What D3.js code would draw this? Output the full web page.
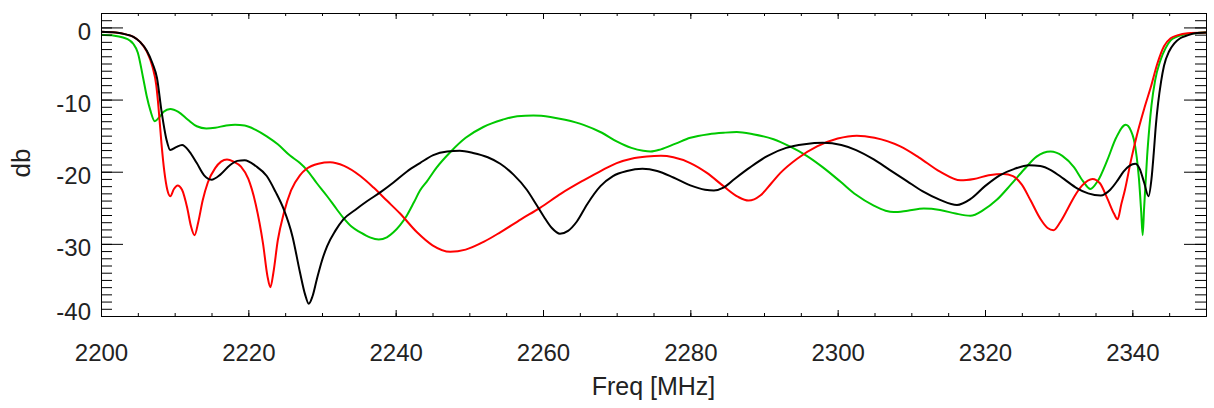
<!DOCTYPE html>
<html>
<head>
<meta charset="utf-8">
<script src="https://cdn.jsdelivr.net/npm/d3@7"></script>
<style>
html,body{margin:0;padding:0;background:#fff;}
svg{display:block;}
text{font-family:"Liberation Sans",Arial,Helvetica,sans-serif;fill:#222;}
</style>
</head>
<body>
<svg id="chart" width="1214" height="408"></svg>
<script>
// ---- data (frequency MHz, dB) ----
const blackFreq = [2200,2202,2203.5,2204.4,2205.3,2206.2,2207,2207.6,2208.2,2208.9,2209.4,2210.2,2211,2212,2213,2214,2215,2216.2,2217.5,2218.5,2219.5,2221,2222.5,2223.7,2224.8,2226,2227,2227.7,2228.2,2228.7,2229.3,2230,2230.7,2231.8,2232.9,2234.5,2236.1,2238,2239.7,2241.5,2243.3,2245.1,2247,2248.7,2250.5,2252.5,2254.2,2256,2257.8,2259,2260.1,2261.2,2262.3,2263.4,2264.6,2266,2267.8,2269.5,2271.4,2273.5,2275.5,2277.7,2280,2282,2283.2,2284.5,2286,2288.1,2290.5,2293,2295.5,2298,2300.5,2302.5,2304.9,2307,2309.4,2311.5,2313.9,2316.2,2318,2320,2322,2324,2326,2327.5,2329,2330.7,2332.5,2334,2335.7,2337,2338,2338.8,2339.6,2340.4,2341,2341.6,2342.2,2342.6,2342.9,2343.2,2343.5,2343.9,2344.3,2345,2345.7,2346.5,2347.5,2348.5,2350];
const blackDb = [-0.6,-0.7,-1.0,-1.3,-2.0,-3.2,-5.0,-7.0,-11.5,-15.6,-17.0,-16.6,-16.3,-17.2,-18.8,-20.5,-21.1,-20.4,-19.1,-18.5,-18.4,-19.2,-20.6,-22.8,-25.2,-29.0,-33.9,-37.0,-38.3,-37.3,-34.9,-32.3,-30.3,-28.2,-26.6,-25.3,-24.1,-22.8,-21.5,-20.0,-18.8,-17.7,-17.2,-17.1,-17.4,-18.0,-18.9,-20.4,-22.5,-24.4,-26.2,-27.8,-28.6,-28.2,-26.9,-24.5,-22.0,-20.6,-19.9,-19.6,-19.9,-20.8,-21.9,-22.5,-22.6,-22.2,-21.0,-19.4,-17.8,-16.7,-16.2,-16.0,-16.3,-17.0,-18.3,-19.7,-21.3,-22.7,-23.9,-24.6,-23.8,-22.0,-20.5,-19.6,-19.1,-19.2,-19.8,-21.0,-22.3,-23.0,-23.3,-22.5,-21.2,-20.0,-19.2,-18.9,-19.6,-21.5,-23.4,-21.0,-17.5,-13.5,-10.5,-7.5,-5.3,-3.3,-2.2,-1.5,-1.1,-0.8,-0.7];

const redFreq = [2200,2202,2203.5,2204.4,2205.3,2206.2,2207,2207.5,2207.8,2208.2,2208.6,2209,2209.4,2209.9,2210.4,2211,2211.7,2212.2,2212.7,2213.2,2213.8,2214.5,2215.5,2216.3,2217.1,2218,2219,2220,2221,2222,2222.6,2223,2223.4,2224,2224.8,2225.8,2227,2227.9,2229.5,2231.1,2233,2235.2,2237,2238.8,2240.6,2242.9,2245,2247.4,2249.5,2252,2254.2,2257,2259.6,2262.5,2265.5,2268,2270,2272,2274.1,2276,2277.7,2280,2282.3,2284.5,2286.5,2287.9,2289.5,2291,2292.2,2294.5,2297.2,2300,2302.6,2305,2308.5,2311,2313.9,2316.7,2318.5,2320.5,2322.5,2323.8,2325,2326.2,2327.5,2328.5,2329.3,2330.2,2331.2,2332.1,2333.2,2334.6,2335.6,2336.6,2337.5,2338,2338.5,2339,2339.8,2340.6,2341.6,2342.5,2343.4,2344.3,2345.2,2346.1,2347.5,2350];
const redDb = [-0.6,-0.7,-1.0,-1.3,-2.0,-3.3,-5.5,-8.0,-11.0,-16.0,-20.0,-22.5,-23.4,-22.4,-21.9,-22.5,-25.0,-27.5,-28.8,-27.0,-24.0,-21.5,-19.5,-18.6,-18.3,-18.6,-19.3,-21.0,-24.5,-30.0,-34.5,-36.0,-34.0,-29.5,-25.8,-22.6,-20.5,-19.6,-18.9,-18.7,-19.2,-20.6,-22.2,-24.0,-25.8,-28.4,-30.2,-31.1,-30.8,-29.7,-28.4,-26.6,-25.0,-23.0,-21.2,-19.8,-18.8,-18.2,-17.9,-17.8,-18.0,-18.8,-20.2,-22.0,-23.5,-24.0,-23.3,-21.6,-20.2,-18.2,-16.5,-15.4,-15.0,-15.3,-16.5,-18.0,-20.0,-21.2,-21.0,-20.5,-20.3,-20.6,-21.8,-24.0,-26.5,-27.8,-28.1,-27.0,-25.2,-23.5,-21.9,-21.0,-21.6,-23.7,-25.8,-26.6,-24.5,-22.5,-18.5,-15.0,-11.3,-8.3,-5.0,-2.6,-1.5,-1.1,-0.8,-0.7];

const greenFreq = [2200,2201.5,2203,2203.9,2204.4,2205,2205.7,2206.2,2206.7,2207.3,2207.8,2208.5,2209.4,2210.5,2211.8,2213,2214.3,2215.5,2217,2218.2,2219.5,2221,2222.5,2224,2225.7,2227,2227.9,2229.3,2230.7,2232,2232.9,2234,2235.2,2236.5,2237.7,2238.8,2239.7,2240.6,2241.5,2242.5,2243.3,2244.2,2245.5,2247.4,2249.5,2251.9,2254.5,2256.5,2258.7,2261,2263,2265.5,2268,2270,2272,2273.6,2274.6,2276,2278,2280,2282.5,2284.5,2286.3,2288.5,2291.3,2293.5,2295.8,2298,2300.4,2302.5,2304.9,2306.5,2307.6,2309.5,2311.7,2313.9,2316,2318,2319.8,2321.6,2323.5,2325.3,2327,2328.9,2330.5,2332.1,2333.3,2334.3,2335.3,2336.6,2337.8,2339.1,2339.8,2340.2,2340.6,2340.9,2341.2,2341.4,2341.6,2341.8,2342,2342.3,2342.6,2343.1,2343.8,2344.5,2345.2,2346,2347,2348.5,2350];
const greenDb = [-1.0,-1.1,-1.4,-1.8,-2.3,-3.5,-6.9,-9.5,-11.5,-13.0,-12.6,-11.7,-11.3,-11.7,-12.8,-13.7,-14.0,-13.9,-13.6,-13.5,-13.6,-14.2,-15.1,-16.2,-17.8,-18.8,-19.7,-21.6,-23.4,-25.2,-26.4,-27.6,-28.4,-29.1,-29.4,-29.1,-28.4,-27.4,-26.1,-24.2,-22.6,-21.4,-19.5,-17.3,-15.3,-13.8,-12.8,-12.3,-12.2,-12.4,-12.8,-13.5,-14.6,-15.8,-16.7,-17.1,-17.2,-16.9,-16.1,-15.3,-14.8,-14.6,-14.5,-14.8,-15.5,-16.5,-17.8,-19.4,-21.4,-23.2,-24.7,-25.4,-25.6,-25.4,-25.1,-25.3,-25.8,-26.1,-25.3,-23.9,-21.8,-19.7,-17.9,-17.2,-17.8,-19.4,-21.3,-22.4,-21.3,-18.4,-15.3,-13.5,-14.3,-15.5,-18.0,-21.0,-25.5,-28.8,-25.0,-21.5,-18.0,-14.0,-10.8,-7.3,-4.6,-2.9,-1.8,-1.3,-1.0,-0.8,-0.7];

const xMajorTicks = [2200,2220,2240,2260,2280,2300,2320,2340];
const xMinorTicks = d3.range(2200, 2351, 5);
const yMajorTicks = [0,-10,-20,-30,-40];
const yMinorTicks = d3.range(-40, 3, 1);
const xTitle = "Freq [MHz]";
const yTitle = "db";

// ---- layout ----
const L = 101, R = 1206, T = 13, B = 316;
const svg = d3.select("#chart");
const x = d3.scaleLinear().domain([2200, 2350]).range([L, R]);
const y = d3.scaleLinear().domain([-40, 2]).range([B, T]);

const series = [
  {f: greenFreq, v: greenDb, color: "#00c800"},
  {f: redFreq, v: redDb, color: "#ff0000"},
  {f: blackFreq, v: blackDb, color: "#000000"}
];

svg.append("defs").append("clipPath").attr("id","clip")
  .append("rect").attr("x", L).attr("y", T).attr("width", R - L).attr("height", B - T);

const line = d3.line().x(d => x(d[0])).y(d => y(d[1])).curve(d3.curveMonotoneX);
const gl = svg.append("g").attr("clip-path","url(#clip)");
series.forEach(s => {
  gl.append("path")
    .datum(s.f.map((f,i) => [f, s.v[i]]))
    .attr("fill","none").attr("stroke", s.color).attr("stroke-width", 2)
    .attr("stroke-linejoin","round")
    .attr("d", line);
});

function styleAxis(g){
  g.selectAll("path.domain").attr("stroke","#000").attr("stroke-width",1);
  g.selectAll(".tick line").attr("stroke","#000").attr("stroke-width",1);
  g.selectAll("text").attr("fill","#222").style("font-family","'Liberation Sans',Arial,sans-serif");
}
const fmt = d => String(d);

// bottom axis
const gbMin = svg.append("g").attr("transform",`translate(0,${B})`)
  .call(d3.axisBottom(x).tickValues(xMinorTicks).tickSize(-3).tickSizeOuter(0).tickFormat(""));
styleAxis(gbMin);
const gb = svg.append("g").attr("transform",`translate(0,${B})`)
  .call(d3.axisBottom(x).tickValues(xMajorTicks).tickSize(-6).tickSizeOuter(0).tickPadding(28).tickFormat(fmt));
gb.selectAll("text").attr("font-size", 24);
styleAxis(gb);

// top axis
const gtMin = svg.append("g").attr("transform",`translate(0,${T})`)
  .call(d3.axisTop(x).tickValues(xMinorTicks).tickSize(-3).tickSizeOuter(0).tickFormat(""));
styleAxis(gtMin);
const gt = svg.append("g").attr("transform",`translate(0,${T})`)
  .call(d3.axisTop(x).tickValues(xMajorTicks).tickSize(-6).tickSizeOuter(0).tickFormat(""));
styleAxis(gt);

// left axis
const glMin = svg.append("g").attr("transform",`translate(${L},0)`)
  .call(d3.axisLeft(y).tickValues(yMinorTicks).tickSize(-11).tickSizeOuter(0).tickFormat(""));
styleAxis(glMin);
const gla = svg.append("g").attr("transform",`translate(${L},0)`)
  .call(d3.axisLeft(y).tickValues(yMajorTicks).tickSize(-22).tickSizeOuter(0).tickPadding(10).tickFormat(fmt));
gla.selectAll("text").attr("font-size", 24).attr("dy", d => d === -40 ? "3.5px" : "12px");
styleAxis(gla);

// right axis
const grMin = svg.append("g").attr("transform",`translate(${R},0)`)
  .call(d3.axisRight(y).tickValues(yMinorTicks).tickSize(-11).tickSizeOuter(0).tickFormat(""));
styleAxis(grMin);
const gr = svg.append("g").attr("transform",`translate(${R},0)`)
  .call(d3.axisRight(y).tickValues(yMajorTicks).tickSize(-22).tickSizeOuter(0).tickFormat(""));
styleAxis(gr);

// titles
svg.append("text").attr("x", (L + R) / 2).attr("y", 395)
  .attr("text-anchor","middle").attr("font-size", 25).text(xTitle);
svg.append("text").attr("transform","translate(30,163) rotate(-90)")
  .attr("text-anchor","middle").attr("font-size", 26).text(yTitle);
</script>
</body>
</html>
